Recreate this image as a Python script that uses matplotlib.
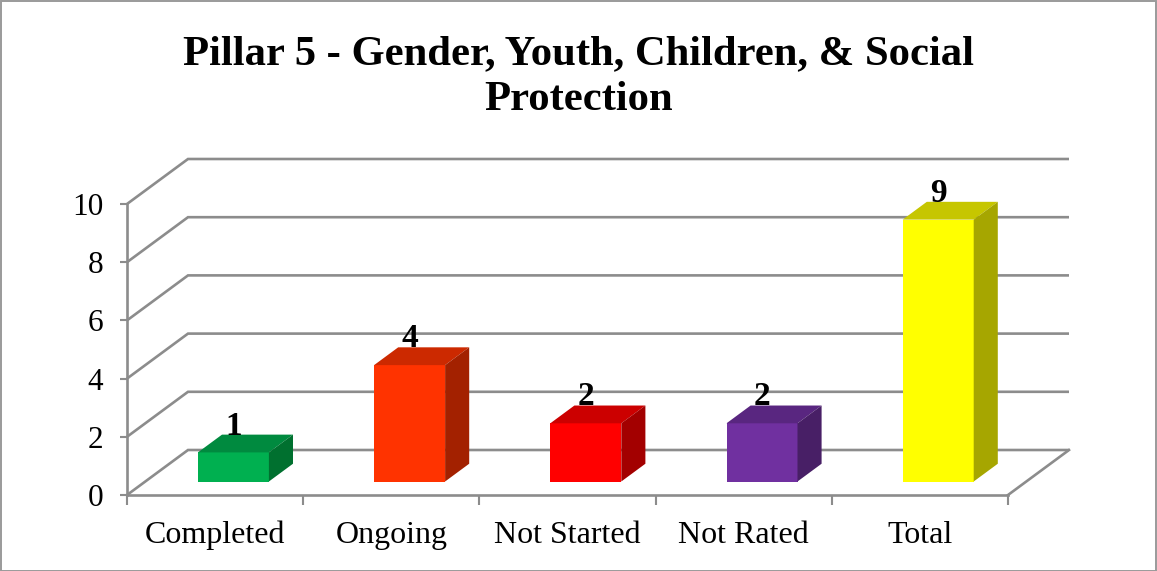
import matplotlib
matplotlib.use("Agg")
import matplotlib.pyplot as plt
from matplotlib.patches import Rectangle

categories = ["Completed", "Ongoing", "Not Started", "Not Rated", "Total"]
values = [1, 4, 2, 2, 9]
y_ticks = [0, 2, 4, 6, 8, 10]
title = "Pillar 5 - Gender, Youth, Children, & Social\nProtection"
front_colors = ["#00B050", "#FF3300", "#FF0000", "#7030A0", "#FFFF00"]
top_colors = ["#008A3F", "#CC2900", "#CC0000", "#592680", "#C6C600"]
side_colors = ["#00702F", "#A32100", "#A30000", "#481F66", "#A6A600"]

W, H = 1157, 571
GRID = "#8C8C8C"
LW = 1.9
plt.rcParams["font.family"] = ["Liberation Serif", "DejaVu Serif"]

fig = plt.figure(figsize=(W / 100, H / 100), dpi=100, facecolor="white")
fig.add_artist(Rectangle((0.5 / W, 0.5 / H), (W - 2) / W, (H - 1.5) / H,
                         transform=fig.transFigure, fill=False,
                         edgecolor="#9A9A9A", linewidth=1.4))

ax = fig.add_axes([127 / W, (H - 495) / H, 881 / W, 291 / H])
ax.set_xlim(0, len(categories))
ax.set_ylim(0, 10)
ax.patch.set_visible(False)

# Oblique projection: depth 0 is the front plane, depth 1 the back wall
DX = 61 / (881 / len(categories))
DY = 45 / 29.1


def proj(x, y, d):
    return x + d * DX, y + d * DY


# Axes spines and ticks
for s in ("top", "right"):
    ax.spines[s].set_visible(False)
for s in ("left", "bottom"):
    ax.spines[s].set_color(GRID)
    ax.spines[s].set_linewidth(LW)
ax.set_yticks(y_ticks)
ax.set_xticks(range(len(categories) + 1))
ax.set_xticklabels([])
ax.set_xticks([i + 0.5 for i in range(len(categories))], minor=True)
ax.set_xticklabels(categories, minor=True, fontsize=23)
ax.tick_params(axis="x", which="major", length=7, width=LW * 0.8, color=GRID)
ax.tick_params(axis="x", which="minor", length=0, pad=18.5)
ax.tick_params(axis="y", length=5, width=LW * 0.8, color=GRID, labelsize=22.5, pad=12)

# Walls: back gridlines, left side diagonals, right floor edge
xmax = len(categories)
for t in y_ticks:
    x0, y0 = proj(0, t, 0)
    x1, y1 = proj(0, t, 1)
    x2, y2 = proj(xmax, t, 1)
    ax.plot([x0, x1, x2], [y0, y1, y2], color=GRID, lw=LW, clip_on=False,
            zorder=1, solid_joinstyle="miter", solid_capstyle="butt")
x0, y0 = proj(xmax, 0, 0)
x1, y1 = proj(xmax, 0, 1)
ax.plot([x0, x1], [y0, y1], color=GRID, lw=LW, clip_on=False, zorder=1)

# 3-D bars
BAR_W = 71 / (881 / len(categories))
D0, D1 = 0.30, 0.695
for i, v in enumerate(values):
    left = i + 0.5 - BAR_W / 2
    right = left + BAR_W
    fl = proj(left, 0, D0)
    fr = proj(right, 0, D0)
    tl = proj(left, v, D0)
    tr = proj(right, v, D0)
    bl2 = proj(left, v, D1)
    br2 = proj(right, v, D1)
    b2 = proj(right, 0, D1)
    ax.fill(*zip(fl, fr, tr, tl), color=front_colors[i], lw=0, clip_on=False, zorder=3)
    ax.fill(*zip(tl, tr, br2, bl2), color=top_colors[i], lw=0, clip_on=False, zorder=3)
    ax.fill(*zip(fr, b2, br2, tr), color=side_colors[i], lw=0, clip_on=False, zorder=3)
    cx = (tl[0] + tr[0]) / 2
    ax.annotate(str(v), (cx, tl[1]), xytext=(0, 19), textcoords="offset points",
                ha="center", va="center", fontsize=24, fontweight="bold",
                annotation_clip=False, zorder=4)

fig.text(579 / W, 1 - 77 / H, title, ha="center", va="center", fontsize=30.7,
         fontweight="bold", linespacing=1.27)

fig.savefig("out.png", dpi=100, facecolor="white")
